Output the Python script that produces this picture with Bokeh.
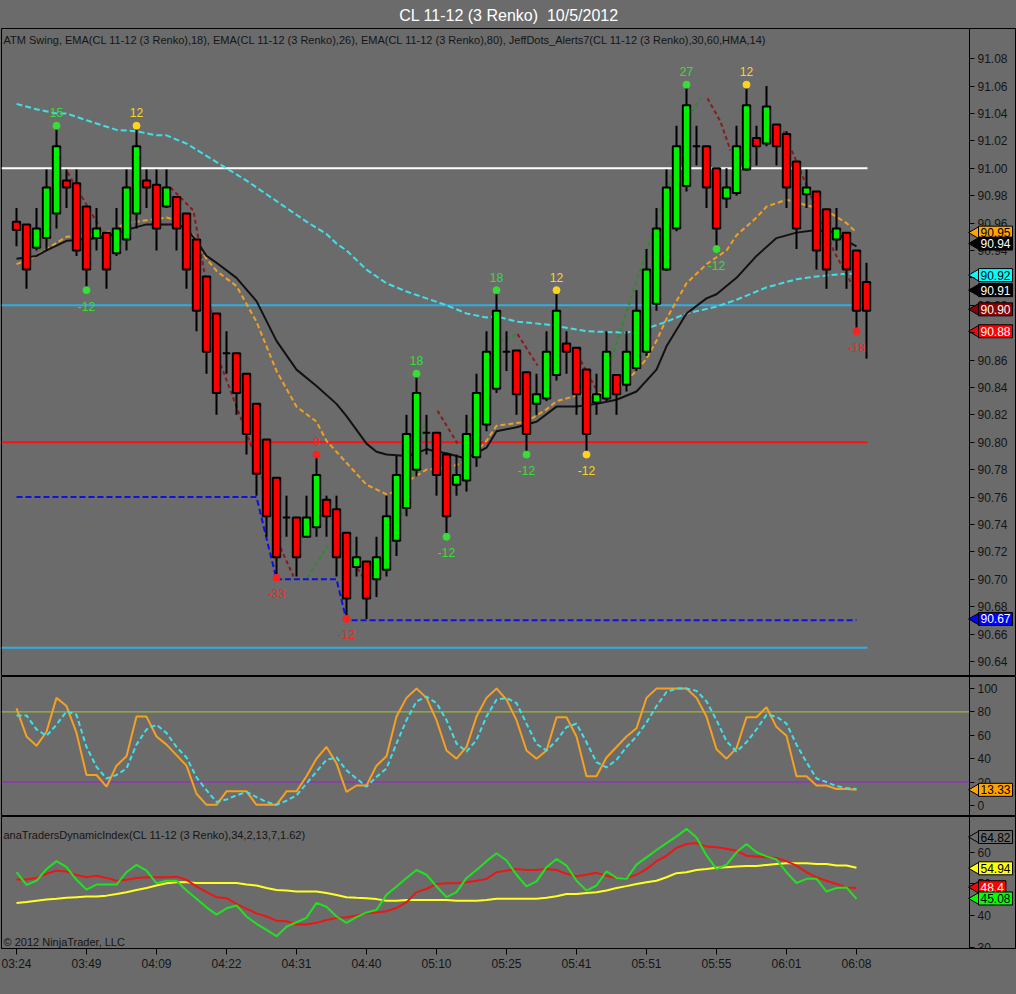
import math
from bokeh.plotting import figure
from bokeh.layouts import column
from bokeh.models import (Range1d, FixedTicker, Label, ColumnDataSource, LinearAxis,
                          PrintfTickFormatter)
from bokeh.embed import file_html
from bokeh.resources import INLINE
from bokeh.core.properties import value

# ---------------- texts ----------------
TITLE = "CL 11-12 (3 Renko)\u00a0 10/5/2012"
MAIN_LEGEND = ("ATM Swing, EMA(CL 11-12 (3 Renko),18), EMA(CL 11-12 (3 Renko),26), "
               "EMA(CL 11-12 (3 Renko),80), JeffDots_Alerts7(CL 11-12 (3 Renko),30,60,HMA,14)")
TDI_LEGEND = "anaTradersDynamicIndex(CL 11-12 (3 Renko),34,2,13,7,1.62)"
COPYRIGHT = "\u00a9 2012 NinjaTrader, LLC"

# ---------------- axes ----------------
time_tick_bars = [0, 7, 14, 21, 28, 35, 42, 49, 56, 63, 70, 77, 84]
time_tick_labels = ["03:24", "03:49", "04:09", "04:22", "04:31", "04:40", "05:10",
                    "05:25", "05:41", "05:51", "05:55", "06:01", "06:08"]
price_ticks = [90.64, 90.66, 90.68, 90.70, 90.72, 90.74, 90.76, 90.78, 90.80, 90.82, 90.84,
               90.86, 90.88, 90.90, 90.92, 90.94, 90.96, 90.98, 91.00, 91.02, 91.04, 91.06, 91.08]
stoch_ticks = [0, 20, 40, 60, 80, 100]
tdi_ticks = [30, 40, 50, 60]

# ---------------- renko candles ----------------
opens = [
    90.961, 90.959, 90.942, 90.949, 90.967, 90.991, 90.989, 90.972, 90.949, 90.953,
    90.938, 90.948, 90.967, 90.991, 90.988, 90.972, 90.979, 90.967, 90.948, 90.921,
    90.894, 90.865, 90.865, 90.850, 90.828, 90.802, 90.774, 90.745, 90.745, 90.731,
    90.738, 90.758, 90.751, 90.734, 90.709, 90.713, 90.700, 90.707, 90.728, 90.752,
    90.780, 90.807, 90.807, 90.791, 90.769, 90.772, 90.789, 90.813, 90.839, 90.866,
    90.867, 90.851, 90.828, 90.832, 90.849, 90.872, 90.869, 90.853, 90.829, 90.832,
    90.849, 90.842, 90.854, 90.866, 90.901, 90.926, 90.956, 90.987, 91.016, 91.016,
    91.000, 90.978, 90.982, 90.999, 91.022, 91.018, 91.032, 91.025, 91.005, 90.981,
    90.983, 90.970, 90.948, 90.953, 90.940, 90.917]
highs = [
    90.971, 90.959, 90.971, 90.999, 91.029, 90.999, 90.999, 90.972, 90.971, 90.953,
    90.971, 90.999, 91.029, 90.999, 90.999, 90.999, 90.979, 90.967, 90.948, 90.921,
    90.894, 90.881, 90.865, 90.850, 90.828, 90.802, 90.774, 90.761, 90.745, 90.761,
    90.791, 90.761, 90.761, 90.734, 90.731, 90.713, 90.731, 90.761, 90.790, 90.820,
    90.850, 90.820, 90.807, 90.791, 90.791, 90.820, 90.850, 90.881, 90.911, 90.881,
    90.867, 90.851, 90.850, 90.881, 90.911, 90.881, 90.869, 90.853, 90.850, 90.881,
    90.849, 90.881, 90.911, 90.941, 90.971, 90.999, 91.031, 91.060, 91.031, 91.016,
    91.000, 91.000, 91.031, 91.060, 91.031, 91.060, 91.032, 91.027, 91.005, 90.999,
    90.983, 90.970, 90.971, 90.953, 90.940, 90.931]
lows = [
    90.943, 90.912, 90.940, 90.940, 90.956, 90.971, 90.936, 90.912, 90.940, 90.912,
    90.936, 90.940, 90.956, 90.971, 90.940, 90.971, 90.940, 90.912, 90.881, 90.850,
    90.820, 90.850, 90.820, 90.791, 90.761, 90.731, 90.702, 90.731, 90.702, 90.731,
    90.731, 90.731, 90.702, 90.671, 90.702, 90.671, 90.687, 90.702, 90.717, 90.746,
    90.775, 90.791, 90.761, 90.731, 90.761, 90.764, 90.782, 90.808, 90.836, 90.852,
    90.820, 90.791, 90.820, 90.830, 90.845, 90.850, 90.820, 90.791, 90.820, 90.830,
    90.820, 90.837, 90.852, 90.863, 90.896, 90.925, 90.954, 90.983, 91.002, 90.971,
    90.941, 90.971, 90.980, 90.998, 91.002, 91.016, 91.002, 90.971, 90.941, 90.971,
    90.926, 90.912, 90.940, 90.912, 90.883, 90.861]
closes = [
    90.955, 90.926, 90.956, 90.986, 91.016, 90.986, 90.940, 90.926, 90.956, 90.926,
    90.956, 90.986, 91.016, 90.986, 90.956, 90.986, 90.956, 90.926, 90.896, 90.866,
    90.836, 90.865, 90.836, 90.806, 90.777, 90.746, 90.716, 90.745, 90.716, 90.745,
    90.776, 90.746, 90.716, 90.686, 90.716, 90.686, 90.716, 90.746, 90.776, 90.806,
    90.836, 90.807, 90.776, 90.746, 90.776, 90.806, 90.836, 90.866, 90.896, 90.866,
    90.835, 90.806, 90.835, 90.866, 90.896, 90.866, 90.835, 90.806, 90.835, 90.866,
    90.835, 90.866, 90.896, 90.926, 90.956, 90.986, 91.016, 91.046, 91.016, 90.986,
    90.956, 90.986, 91.016, 91.046, 91.016, 91.045, 91.016, 90.986, 90.956, 90.986,
    90.940, 90.926, 90.956, 90.926, 90.896, 90.896]

# ---------------- moving averages (read at bar positions) ----------------
ema18_bars = [0, 2, 3, 5, 7, 9, 11, 13, 15, 16, 17, 18, 19, 20, 22, 24, 26, 27, 28, 30,
              31, 33, 35, 37, 38, 39, 41, 43, 45, 47, 48, 50, 51, 53, 54, 56, 58, 60, 62, 63,
              64, 65, 67, 69, 71, 72, 74, 75, 77, 79, 81, 83, 84]
ema18_vals = [90.930, 90.936, 90.941, 90.950, 90.951, 90.953, 90.960, 90.962, 90.964, 90.962,
              90.958, 90.947, 90.934, 90.925, 90.914, 90.888, 90.852, 90.839, 90.826, 90.815,
              90.801, 90.785, 90.769, 90.762, 90.764, 90.771, 90.780, 90.781, 90.786, 90.801,
              90.812, 90.814, 90.815, 90.824, 90.830, 90.834, 90.835, 90.839, 90.852, 90.861,
              90.874, 90.890, 90.916, 90.930, 90.940, 90.951, 90.964, 90.972, 90.977, 90.973,
              90.969, 90.960, 90.953]
ema26_bars = [0, 2, 3, 5, 7, 9, 11, 13, 15, 16, 17, 18, 19, 20, 22, 24, 26, 28, 30, 32,
              33, 34, 35, 36, 37, 39, 40, 41, 42, 43, 45, 46, 47, 48, 50, 52, 54, 56, 58, 60,
              62, 63, 64, 65, 67, 69, 70, 71, 72, 74, 76, 78, 80, 82, 83, 84]
ema26_vals = [90.934, 90.936, 90.940, 90.947, 90.948, 90.950, 90.955, 90.959, 90.959, 90.959,
              90.956, 90.947, 90.936, 90.931, 90.920, 90.903, 90.874, 90.853, 90.841, 90.828,
              90.819, 90.809, 90.799, 90.793, 90.791, 90.790, 90.792, 90.795, 90.793, 90.792,
              90.788, 90.792, 90.796, 90.808, 90.811, 90.815, 90.826, 90.826, 90.828, 90.831,
              90.837, 90.845, 90.853, 90.870, 90.894, 90.905, 90.908, 90.914, 90.920, 90.936,
              90.949, 90.953, 90.955, 90.953, 90.947, 90.943]
ema80_bars = [0, 2, 4, 5, 7, 10, 12, 14, 15, 17, 19, 21, 23, 25, 27, 29, 31, 32, 33, 35,
              37, 39, 41, 43, 45, 47, 48, 50, 53, 57, 61, 63, 65, 67, 70, 72, 75, 78, 80, 83, 84]
ema80_vals = [91.047, 91.043, 91.040, 91.040, 91.035, 91.028, 91.027, 91.024, 91.024, 91.018,
              91.009, 91.000, 90.991, 90.981, 90.971, 90.961, 90.952, 90.945, 90.940, 90.926,
              90.916, 90.910, 90.905, 90.900, 90.894, 90.891, 90.892, 90.888, 90.886, 90.881,
              90.880, 90.883, 90.888, 90.894, 90.899, 90.904, 90.913, 90.919, 90.921, 90.923, 90.923]

# JeffDots HMA trail pieces (dashed, coloured by direction)
hma_up_x = [[2.7, 4.7], [10.4, 12.4], [29.1, 31.2], [36.1, 38.4, 41.1], [44.7, 48.4, 50.1],
            [58.4, 67.6, 68.4]]
hma_up_y = [[90.971, 90.998], [90.954, 90.976], [90.701, 90.725], [90.698, 90.744, 90.820],
            [90.801, 90.874, 90.879], [90.837, 91.042, 91.051]]
hma_dn_x = [[5.1, 8.4], [15.4, 17.7, 20.4, 23.4, 24.7], [26.4, 27.7], [34.1, 34.7], [42.1, 44.1],
            [50.1, 52.1], [56.1, 58.1], [69.1, 70.4, 71.4], [76.7, 78.4, 81.7, 83.7]]
hma_dn_y = [[90.997, 90.956], [90.986, 90.969, 90.857, 90.799, 90.771], [90.723, 90.702],
            [90.708, 90.701], [90.823, 90.799], [90.879, 90.856], [90.864, 90.837],
            [91.051, 91.034, 91.013], [91.027, 90.998, 90.940, 90.913]]

# ATM swing points
swing_bars = [4, 7, 12, 26, 30, 33, 40, 43, 48, 51, 54, 57, 67, 70, 73, 84]
swing_prices = [91.031, 90.911, 91.031, 90.701, 90.791, 90.671, 90.850, 90.731,
                90.911, 90.791, 90.911, 90.791, 91.061, 90.941, 91.061, 90.881]
swing_texts = ["15", "-12", "12", "-33", "9", "-12", "18", "-12",
               "18", "-12", "12", "-12", "27", "-12", "12", "-18"]
swing_kind = ["high", "low", "high", "low", "high", "low", "high", "low",
              "high", "low", "high", "low", "high", "low", "high", "low"]
swing_class = ["green", "green", "gold", "red", "red", "red", "green", "green",
               "green", "green", "gold", "gold", "green", "green", "gold", "red"]

# horizontal levels
level_prices = [91.00, 90.90, 90.80, 90.65]
level_class = ["white", "sky", "red", "sky"]
level_end_bar = 85.1
support_bars = [0, 24, 26, 32, 33, 84]
support_prices = [90.76, 90.76, 90.70, 90.70, 90.67, 90.67]

# price tags on the right axis
tag_texts = ["90.95", "90.94", "90.92", "90.91", "90.90", "90.88", "90.67"]
tag_prices = [90.953, 90.945, 90.922, 90.911, 90.897, 90.881, 90.671]
tag_class = ["orange", "black", "cyan", "black", "darkred", "red", "blue"]

# ---------------- stochastics ----------------
stoch_k = [83, 59, 51, 63, 92, 85, 62, 26, 26, 16, 34, 42, 76, 76, 59, 52, 43, 34, 10, 0.5,
           0.5, 12, 12, 12, 0.5, 0.5, 0.5, 12, 12, 25, 40, 50, 36, 11.5, 17, 17, 34, 42, 76, 92,
           100, 92, 73, 47, 40, 50, 76, 92, 100, 90.5, 73, 47, 40, 47, 75.5, 75.5, 59, 25, 25, 41,
           50, 59, 66, 92, 100, 100, 100, 100, 92, 76, 48, 40, 49, 75.5, 75.5, 84, 67, 59.5, 25, 25,
           17, 17, 14, 14, 13.33]
stoch_d = [77, 77, 65, 59.5, 69, 80.5, 77.6, 50, 33, 23, 26, 31.6, 52, 65, 69, 62, 50, 41, 24, 13,
           3, 5, 8.6, 11.5, 7, 3, 0.5, 4, 8.6, 18.7, 29, 39, 41, 30, 23, 16, 24.4, 31.6, 53, 73,
           89, 93, 87.6, 73, 53, 46, 56, 76, 90.5, 92, 87.6, 70, 52.6, 47, 55.5, 67, 70, 54, 37, 32.5,
           39, 50, 59, 71, 85, 97, 100, 100, 98, 89, 73, 55, 46, 54, 65, 77.6, 76, 70, 52, 37,
           23, 20, 16.4, 15, 14]
stoch_levels = [80, 20]
stoch_tag_text = "13.33"
stoch_tag_value = 13.33

# ---------------- traders dynamic index ----------------
tdi_price = [53.7, 49.7, 51, 54.7, 57.2, 55.3, 51.3, 48.2, 49.8, 49.8, 49.8, 53.7, 56, 54.2, 50.2,
             51, 51, 47.9, 45.3, 42.6, 40.3, 42.3, 43.2, 39.7, 37.4, 35.5, 33.5, 36.5, 37.9, 39.3,
             44, 42.8, 39.7, 37.7, 39.5, 41, 41.8, 46.6, 49.2, 51.9, 54.4, 52.9, 49.2, 45.8, 47.4,
             51.9, 54.4, 57.2, 59.7, 57.4, 52.9, 49.2, 50.8, 55.3, 57.9, 55.8, 51, 47.9, 49.5, 54,
             51.9, 51.6, 56.1, 58.4, 60.7, 62.9, 65, 67.4, 64.7, 59, 54.7, 56.1, 60, 62.6, 60,
             58.7, 57.7, 53.7, 50.3, 51.6, 51.6, 47.6, 48.7, 48.9, 45.3]
tdi_signal = [51.4, 51.4, 51.9, 53.2, 54.2, 53.9, 52.8, 52.1, 52.6, 51.9, 51, 51.3, 51.9, 52.1, 52.1,
              52.1, 52.3, 51.3, 49.2, 47.4, 45.8, 45.5, 43.7, 42.1, 40.7, 39.7, 38.4, 38.2, 37.2, 37.2,
              37.7, 38.6, 39.2, 39.5, 40, 40.7, 41, 41.4, 42.4, 44.2, 47.4, 48.4, 50, 50.2, 50.2,
              50.5, 51, 51.6, 53.7, 54.2, 54.7, 54.4, 54.4, 54.7, 54.4, 53.2, 52.4, 52.9, 53.5, 52.6,
              51.9, 51.9, 52.9, 54.7, 57.2, 58.9, 61.4, 62.6, 62.9, 61.8, 61.6, 61.1, 60.5, 58.9, 58.7,
              58.4, 58.2, 57.2, 55.8, 53.7, 52.1, 51, 50, 48.9, 48.7]
tdi_base = [44, 44.3, 44.7, 45.1, 45.3, 45.6, 45.8, 46, 46, 46.3, 46.8, 47.4, 48.1, 48.7, 49.5,
            50.2, 50.5, 50.5, 50.3, 50.3, 50.3, 50.3, 50.3, 49.8, 49.5, 48.7, 48.1, 47.9, 47.6, 47.6,
            47.6, 47.1, 46.5, 45.8, 45.6, 45.5, 45.2, 44.7, 44.7, 44.9, 44.9, 44.9, 44.9, 44.9, 44.7,
            44.7, 44.7, 44.9, 45.3, 45.3, 45.3, 45.3, 45.3, 45.6, 46.1, 46.8, 46.8, 47.1, 47.4, 47.9,
            48.7, 49.3, 50, 50.5, 51, 52.1, 53.4, 53.7, 54.4, 54.7, 55.1, 55.3, 55.5, 55.7, 55.7,
            56, 56.3, 56.5, 56.5, 56.5, 56.3, 56.3, 55.8, 55.8, 55.1]
tdi_tag_texts = ["64.82", "54.94", "48.4", "45.08"]
tdi_tag_values = [64.82, 54.94, 48.95, 45.4]
tdi_tag_class = ["plain", "yellow", "red", "green"]

# ---------------- styling ----------------
GRAY = "#6B6B6B"
FONT = "Liberation Sans"
WIDTH = 1016
X_LEFT, X_RIGHT = -1.5, 100.0
AXIS_X = 95.3
xr = Range1d(X_LEFT, X_RIGHT)

TAG_BG = {"orange": "#FFA500", "black": "#000000", "cyan": "#00FFFF", "darkred": "#8B0000",
          "red": "#FF0000", "blue": "#0000FF", "plain": GRAY, "yellow": "#FFFF00",
          "green": "#00FF00"}
TAG_FG = {"orange": "black", "black": "white", "cyan": "black", "darkred": "white",
          "red": "white", "blue": "white", "plain": "black", "yellow": "black",
          "green": "black"}
SWING_COLOR = {"green": "#33E033", "gold": "#FFD21E", "red": "#FF2020"}
LEVEL_COLOR = {"white": "#FFFFFF", "sky": "#2EAEE6", "red": "#FF1010"}


def base(height, yr, yticks, fmt=None, **kw):
    p = figure(width=WIDTH, height=height, x_range=xr, y_range=yr, output_backend="svg",
               toolbar_location=None, y_axis_location=None, **kw)
    p.background_fill_color = GRAY
    p.border_fill_color = GRAY
    p.outline_line_color = "black"
    p.outline_line_width = 1
    p.grid.visible = False
    p.min_border_left = 1
    p.min_border_right = 0
    ax = LinearAxis(ticker=FixedTicker(ticks=yticks), fixed_location=AXIS_X)
    if fmt:
        ax.formatter = PrintfTickFormatter(format=fmt)
    ax.axis_line_color = "black"
    ax.major_tick_line_color = "black"
    ax.minor_tick_line_color = None
    ax.major_tick_out = 5
    ax.major_tick_in = 0
    ax.major_label_text_font = FONT
    ax.major_label_text_font_size = "12px"
    ax.major_label_text_color = "#151515"
    ax.major_label_standoff = 3
    p.add_layout(ax, "right")
    return p


def tags(p, texts, vals, classes):
    p.scatter(x=[AXIS_X + 0.6] * len(vals), y=vals, marker="triangle", angle=math.pi / 2,
              size=12, fill_color=[TAG_BG[c] for c in classes], line_color="black")
    for t, v, c in zip(texts, vals, classes):
        lb = Label(x=AXIS_X, y=v, text=t, x_offset=9, text_baseline="middle", text_align="left",
                   text_font=FONT, text_font_size="12px", text_color=TAG_FG[c],
                   background_fill_color=TAG_BG[c], border_line_color="black",
                   border_line_width=1)
        try:
            lb.padding = 2
        except Exception:
            pass
        p.add_layout(lb)


# ================= main price panel =================
p1 = base(676, Range1d(90.629, 91.102), price_ticks, fmt="%.2f", x_axis_location=None, title=TITLE)
p1.min_border_bottom = 0
p1.title.align = "center"
p1.title.text_color = "white"
p1.title.text_font = FONT
p1.title.text_font_size = "16px"
p1.title.text_font_style = "normal"
p1.title.standoff = 9

nbar = len(opens)
bar_x = list(range(nbar))

for lv, cl in zip(level_prices, level_class):
    p1.line([X_LEFT, level_end_bar], [lv, lv], line_color=LEVEL_COLOR[cl], line_width=2)

p1.line(support_bars, support_prices, line_color="#1010E0", line_width=2, line_dash="6 3")

p1.line(ema80_bars, ema80_vals, line_color="#3FE0E6", line_width=2, line_dash="6 3")
p1.line(ema18_bars, ema18_vals, line_color="#F0A020", line_width=2, line_dash="5 3")
p1.line(ema26_bars, ema26_vals, line_color="#111111", line_width=2)

p1.multi_line(hma_up_x, hma_up_y, line_color="#2E8B2E", line_width=2, line_dash="4 3")
p1.multi_line(hma_dn_x, hma_dn_y, line_color="#8B1A1A", line_width=2, line_dash="4 3")

body_top = [max(o, c) for o, c in zip(opens, closes)]
body_bot = [min(o, c) for o, c in zip(opens, closes)]
body_col = ["#00F000" if c > o else ("#FF0000" if c < o else "#000000")
            for o, c in zip(opens, closes)]
csrc = ColumnDataSource(dict(x=bar_x, hi=highs, lo=lows, top=body_top, bot=body_bot, col=body_col))
p1.segment(x0="x", y0="lo", x1="x", y1="hi", source=csrc, line_color="black", line_width=2)
p1.vbar(x="x", width=0.74, top="top", bottom="bot", fill_color="col", line_color="black",
        line_width=2, source=csrc)

ssrc = ColumnDataSource(dict(
    x=swing_bars, y=swing_prices, t=swing_texts,
    c=[SWING_COLOR[k] for k in swing_class],
    off=[-13 if k == "high" else 16 for k in swing_kind]))
p1.scatter(x="x", y="y", size=7, fill_color="c", line_color="c", source=ssrc)
p1.text(x="x", y="y", text="t", text_color="c", y_offset="off", text_align="center",
        text_baseline="middle", text_font=value(FONT), text_font_size="12px", source=ssrc)

p1.add_layout(Label(x=X_LEFT, y=91.102, x_offset=2, y_offset=-5, text=MAIN_LEGEND,
                    text_baseline="top", text_font=FONT, text_font_size="11px",
                    text_color="#151515"))
tags(p1, tag_texts, tag_prices, tag_class)

# ================= stochastics panel =================
p2 = base(140, Range1d(-9.5, 110.3), stoch_ticks, x_axis_location=None)
p2.min_border_top = 0
p2.min_border_bottom = 0
lower_x = list(range(len(stoch_k)))
p2.line([X_LEFT, AXIS_X], [stoch_levels[0]] * 2, line_color="#A6CC33", line_width=1)
p2.line([X_LEFT, AXIS_X], [stoch_levels[1]] * 2, line_color="#9A1FD0", line_width=1)
p2.line(lower_x, stoch_k, line_color="#F5A020", line_width=2)
p2.line(lower_x, stoch_d, line_color="#3FE0E6", line_width=2, line_dash="5 3")
tags(p2, [stoch_tag_text], [stoch_tag_value], ["orange"])

# ================= TDI panel =================
p3 = base(178, Range1d(29.6, 71.3), tdi_ticks)
p3.min_border_top = 0
p3.min_border_bottom = 46
xa = p3.xaxis[0]
xa.ticker = FixedTicker(ticks=time_tick_bars)
xa.major_label_overrides = {b: s for b, s in zip(time_tick_bars, time_tick_labels)}
xa.axis_line_color = "black"
xa.major_tick_line_color = "black"
xa.minor_tick_line_color = None
xa.major_tick_out = 6
xa.major_tick_in = 0
xa.major_label_standoff = 2
xa.major_label_text_font = FONT
xa.major_label_text_font_size = "12px"
xa.major_label_text_color = "#151515"

tdi_x = list(range(len(tdi_price)))
p3.line(tdi_x, tdi_base, line_color="#FFFF20", line_width=2)
p3.line(tdi_x, tdi_signal, line_color="#EE1515", line_width=2)
p3.line(tdi_x, tdi_price, line_color="#22E022", line_width=2)
p3.add_layout(Label(x=X_LEFT, y=71.3, x_offset=2, y_offset=-12, text=TDI_LEGEND,
                    text_baseline="top", text_font=FONT, text_font_size="11px",
                    text_color="#151515"))
p3.add_layout(Label(x=X_LEFT, y=29.6, x_offset=2, y_offset=1, text=COPYRIGHT,
                    text_baseline="bottom", text_font=FONT, text_font_size="11px",
                    text_color="#151515"))
tags(p3, tdi_tag_texts, tdi_tag_values, tdi_tag_class)

layout = column(p1, p2, p3, spacing=0)
layout.styles = {"background-color": GRAY}
open("out.html", "w").write(file_html(layout, INLINE))
